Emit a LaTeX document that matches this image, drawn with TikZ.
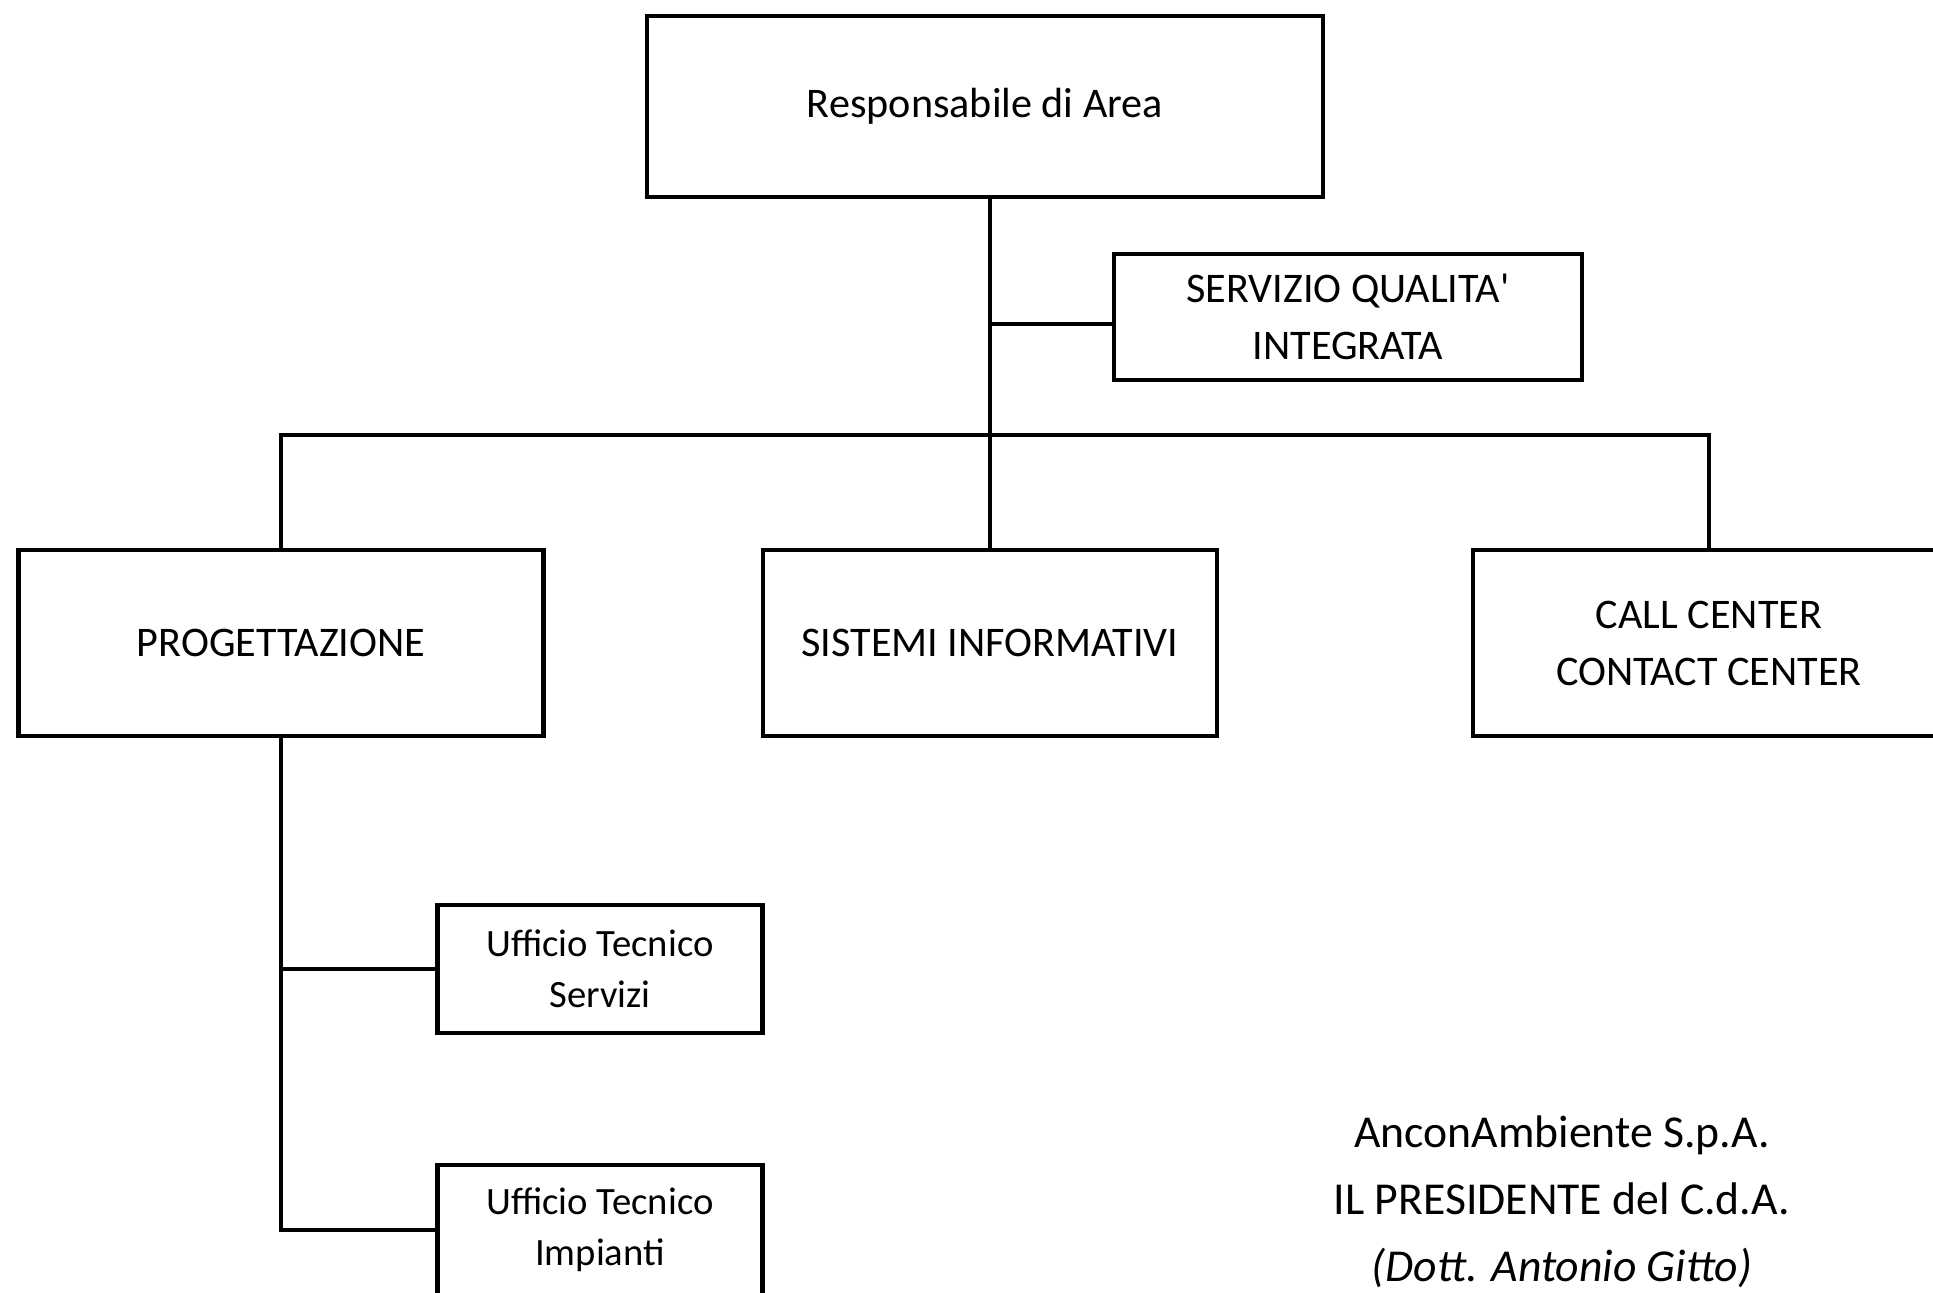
\documentclass[tikz,border=0pt]{standalone}
\usepackage{fontspec}
\setmainfont{Carlito}
\usetikzlibrary{positioning}
\tikzset{
  unit/.style = {rectangle, draw, line width=1.35pt, align=center, inner sep=0pt,
                 font=\fontsize{12}{16.2}\selectfont},
  office/.style = {unit, font=\fontsize{11}{14.4}\selectfont},
  link/.style = {line width=1.35pt},
}

\begin{document}
\begin{tikzpicture}
  \useasboundingbox (0,0) rectangle (19.33,-12.93);
  \clip (0,0) rectangle (19.33,-12.93);
  \node[unit, minimum width=6.76cm, minimum height=1.81cm] (area) at (9.85,-1.065) {\raisebox{-3pt}{Responsabile di Area}};
  \node[unit, minimum width=4.68cm, minimum height=1.26cm] (qual) at (13.48,-3.17) {SERVIZIO QUALITA\textquotesingle\\INTEGRATA};
  \node[unit, minimum width=5.25cm, minimum height=1.86cm] (prog) at (2.81,-6.43) {PROGETTAZIONE};
  \node[unit, minimum width=4.54cm, minimum height=1.86cm] (sist) at (9.90,-6.43) {SISTEMI INFORMATIVI};
  \node[unit, minimum width=4.72cm, minimum height=1.86cm] (call) at (17.09,-6.43) {CALL CENTER\\CONTACT CENTER};
  \node[office, minimum width=3.25cm, minimum height=1.28cm] (uts) at (6.00,-9.69) {Ufficio Tecnico\\Servizi};
  \node[office, minimum width=3.25cm, minimum height=1.30cm] (uti) at (6.00,-12.30) {Ufficio Tecnico\\Impianti};
  \coordinate (bus) at (9.90,-4.35);
  \coordinate (tap) at (9.90,-3.24);
  % links
  \draw[link] (area.south -| sist.north) -- (sist.north);
  \draw[link] (tap) -- (tap -| qual.west);
  \draw[link] (prog.north) |- (bus) -| (call.north);
  \draw[link] (prog.south) |- (uti.west);
  \draw[link] (prog.south |- uts.west) -- (uts.west);
  % signature
  \node[align=center, font=\fontsize{13}{19}\selectfont] (sign) at (15.62,-12.02)
    {AnconAmbiente S.p.A.\\IL PRESIDENTE del C.d.A.\\\textit{(Dott. Antonio Gitto)}};
\end{tikzpicture}
\end{document}
